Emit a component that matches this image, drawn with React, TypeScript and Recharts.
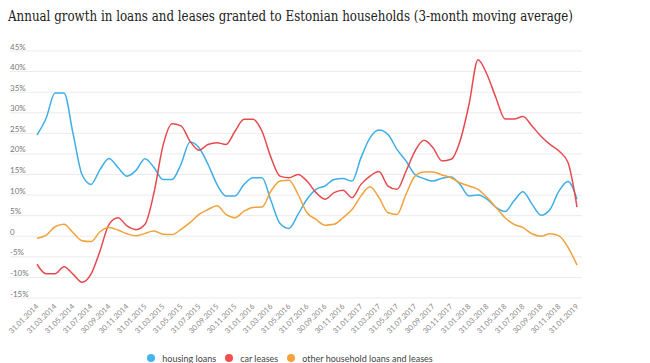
import React from 'react';
import { LineChart, Line, XAxis, YAxis, CartesianGrid } from 'recharts';

const dates = [
  '31.01.2014', '28.02.2014', '31.03.2014', '30.04.2014', '31.05.2014', '30.06.2014',
  '31.07.2014', '31.08.2014', '30.09.2014', '31.10.2014', '30.11.2014', '31.12.2014',
  '31.01.2015', '28.02.2015', '31.03.2015', '30.04.2015', '31.05.2015', '30.06.2015',
  '31.07.2015', '31.08.2015', '30.09.2015', '31.10.2015', '30.11.2015', '31.12.2015',
  '31.01.2016', '29.02.2016', '31.03.2016', '30.04.2016', '31.05.2016', '30.06.2016',
  '31.07.2016', '31.08.2016', '30.09.2016', '31.10.2016', '30.11.2016', '31.12.2016',
  '31.01.2017', '28.02.2017', '31.03.2017', '30.04.2017', '31.05.2017', '30.06.2017',
  '31.07.2017', '31.08.2017', '30.09.2017', '31.10.2017', '30.11.2017', '31.12.2017',
  '31.01.2018', '28.02.2018', '31.03.2018', '30.04.2018', '31.05.2018', '30.06.2018',
  '31.07.2018', '31.08.2018', '30.09.2018', '31.10.2018', '30.11.2018', '31.12.2018',
  '31.01.2019',
];

const housingLoans = [
  24.6, 28.6, 34.8, 34.8, 25.0, 15.0, 12.6, 16.2, 18.9, 16.7, 14.6, 16.0,
  18.8, 16.7, 13.8, 13.8, 17.5, 22.9, 21.5, 17.5, 12.6, 9.8, 9.8, 12.6,
  14.2, 14.2, 8.6, 3.1, 1.9, 5.3, 9.0, 11.4, 12.2, 13.8, 14.0, 13.4,
  19.1, 23.9, 25.8, 24.7, 21.1, 18.3, 15.0, 14.0, 13.4, 14.1, 14.4, 12.6,
  9.8, 10.0, 9.0, 7.0, 6.0, 8.6, 10.8, 7.8, 5.1, 6.5, 11.0, 13.3,
  9.0,
];

const carLeases = [
  -6.8, -9.1, -9.1, -7.4, -9.2, -11.2, -9.2, -3.6, 2.9, 4.5, 2.5, 1.6,
  2.9, 10.6, 22.0, 27.3, 26.8, 23.1, 20.9, 22.3, 22.7, 22.3, 25.5, 28.4,
  28.4, 25.5, 19.1, 14.6, 14.2, 15.0, 13.4, 10.6, 9.0, 10.6, 11.2, 9.4,
  12.6, 14.6, 15.7, 12.2, 11.4, 15.8, 20.7, 23.3, 21.5, 18.3, 18.7, 23.1,
  32.0, 42.9, 39.3, 33.6, 28.5, 28.5, 29.1, 26.8, 24.3, 22.3, 20.7, 17.9,
  7.1,
];

const otherLoans = [
  -0.5, 0.2, 2.3, 2.9, 0.9, -1.1, -1.3, 1.1, 2.1, 1.5, 0.6, 0.1,
  0.7, 1.3, 0.5, 0.4, 1.7, 3.3, 5.3, 6.5, 7.4, 5.3, 4.5, 6.1,
  7.0, 7.1, 11.0, 13.4, 13.6, 10.2, 5.7, 4.1, 2.7, 2.9, 4.5, 6.5,
  9.8, 12.0, 9.4, 5.7, 5.3, 10.2, 14.6, 15.6, 15.6, 14.9, 14.2, 13.0,
  12.2, 11.4, 9.4, 7.0, 4.5, 2.9, 2.1, 0.6, 0.0, 0.6, 0.1, -2.7,
  -7.0,
];

const yTicks = [-15, -10, -5, 0, 5, 10, 15, 20, 25, 30, 35, 40, 45];

const seriesNames = ['housing loans', 'car leases', 'other household loans and leases'];
const seriesColors = ['#3eaee6', '#e64a4d', '#f0a23b'];
const legendColors = ['#45b4f0', '#f0514f', '#f5a23e'];

const data = dates.map((d, i) => ({
  date: d,
  housing: housingLoans[i],
  car: carLeases[i],
  other: otherLoans[i],
}));

const fmtPct = (v: number) => (v === 0 ? '0' : `${v}%`);

const YTick = (props: any) => {
  const { y, payload } = props;
  return (
    <text x={10} y={y - 1.5} fontSize={8} fill="#777" fontFamily="Lato, 'Open Sans', sans-serif">
      {fmtPct(payload.value)}
    </text>
  );
};

const XTick = (props: any) => {
  const { x, y, payload } = props;
  return (
    <g transform={`translate(${x + 2},${y + 7})`}>
      <text textAnchor="end" transform="rotate(-45)" fontSize={7.5} fill="#888" fontFamily="Lato, 'Open Sans', sans-serif">
        {payload.value}
      </text>
    </g>
  );
};

export default function App() {
  return (
    <div style={{ position: 'absolute', left: 0, top: 0, width: 650, height: 363, background: '#fff', overflow: 'hidden' }}>
      <svg width={650} height={30} style={{ position: 'absolute', left: 0, top: 0 }}>
        <text x={8} y={21} fontSize={15} fill="#222" fontFamily="'DejaVu Serif Condensed', 'DejaVu Serif', serif" textLength={565} lengthAdjust="spacingAndGlyphs">
          Annual growth in loans and leases granted to Estonian households (3-month moving average)
        </text>
      </svg>
      <div style={{ position: 'absolute', left: 0, top: 0 }}>
        <LineChart width={650} height={363} data={data} margin={{ top: 51, right: 68, left: 0, bottom: 0 }}>
          <CartesianGrid vertical={false} stroke="#ebebeb" strokeWidth={1} />
          <XAxis
            dataKey="date"
            interval={1}
            axisLine={false}
            tickLine={false}
            tickSize={0}
            height={65}
            padding={{ left: 27, right: 5 }}
            tick={<XTick />}
          />
          <YAxis
            width={10}
            domain={[-15, 45]}
            ticks={yTicks}
            interval={0}
            axisLine={false}
            tickLine={false}
            tick={<YTick />}
          />
          <Line type="monotone" dataKey="housing" stroke={seriesColors[0]} strokeWidth={1.5} dot={false} isAnimationActive={false} />
          <Line type="monotone" dataKey="car" stroke={seriesColors[1]} strokeWidth={1.5} dot={false} isAnimationActive={false} />
          <Line type="monotone" dataKey="other" stroke={seriesColors[2]} strokeWidth={1.5} dot={false} isAnimationActive={false} />
        </LineChart>
      </div>
      <div
        style={{
          position: 'absolute', left: 4, width: 572, top: 352, height: 12,
          display: 'flex', justifyContent: 'center', alignItems: 'center',
          fontFamily: "Lato, 'Open Sans', sans-serif", fontSize: 9, color: '#444',
        }}
      >
        {seriesNames.map((name, i) => (
          <div key={name} style={{ display: 'flex', alignItems: 'center', marginRight: i < seriesNames.length - 1 ? 9 : 0 }}>
            <span style={{ width: 8, height: 8, borderRadius: 4, background: legendColors[i], marginRight: 7, display: 'inline-block' }} />
            <span>{name}</span>
          </div>
        ))}
      </div>
    </div>
  );
}
